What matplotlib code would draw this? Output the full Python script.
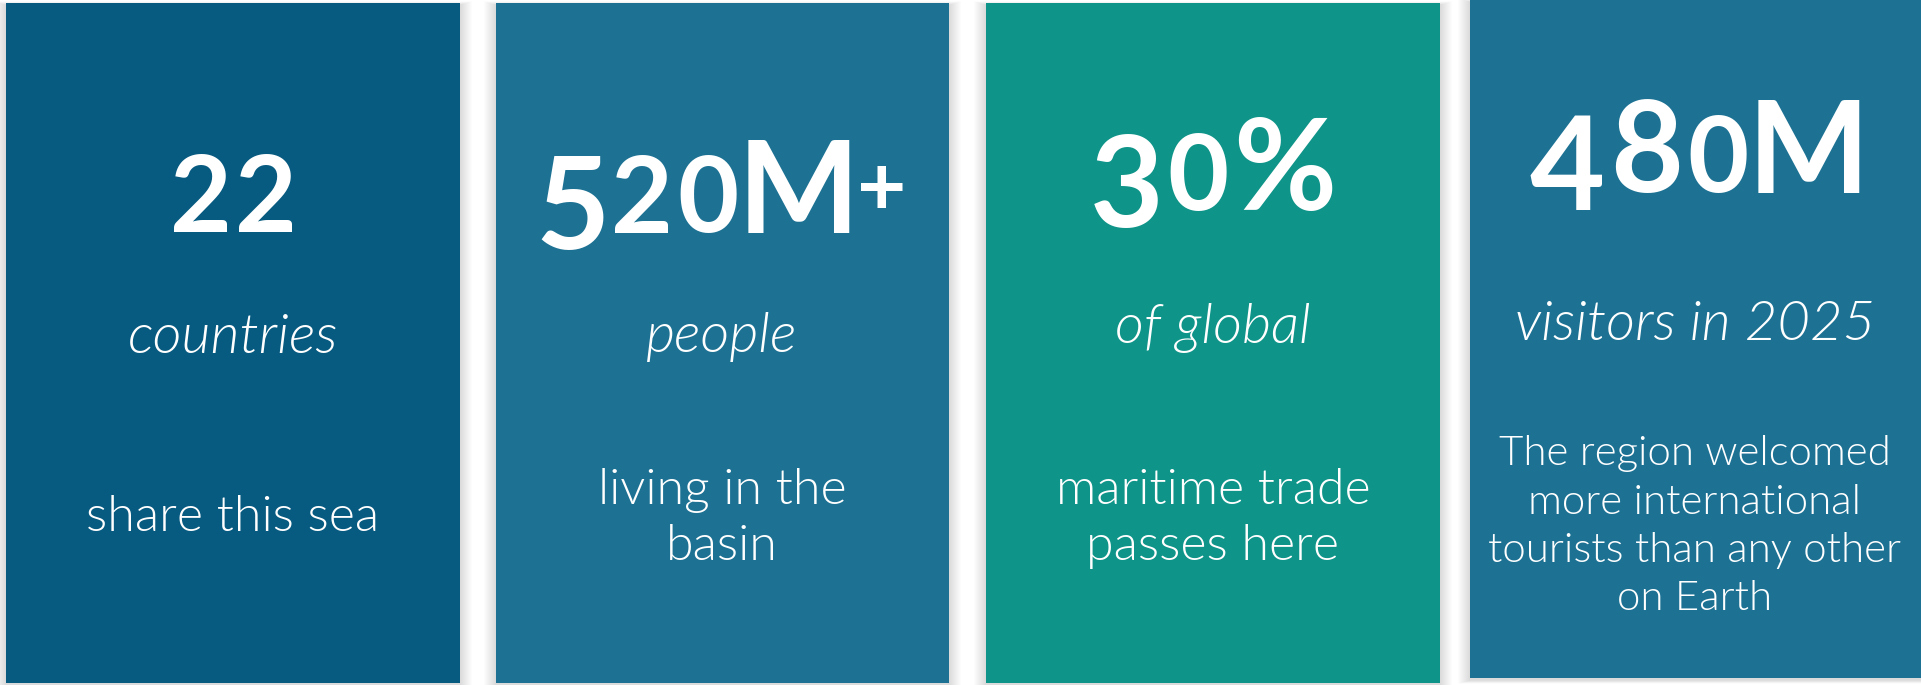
import matplotlib.pyplot as plt
from matplotlib.patches import Rectangle
from matplotlib.textpath import TextPath
from matplotlib.font_manager import FontProperties

# card contents
figures = ['22', '520M+', '30%', '480M']
units = ['countries', 'people', 'of global', 'visitors in 2025']
notes = [
    ['share this sea'],
    ['living in the', 'basin'],
    ['maritime trade', 'passes here'],
    ['The region welcomed', 'more international', 'tourists than any other', 'on Earth'],
]
card_colors = ['#075A80', '#1D7294', '#0E9488', '#1D7294']

# layout in pixels (y measured from the top)
W, H = 1921, 685
cards = [(6, 3, 454, 680), (496, 3, 453, 680), (986, 3, 454, 680), (1470, 0, 460, 678)]
text_x = [233, 722, 1213, 1695]
figure_base = [232, 233, 211, 193]
unit_base = [353, 352, 343, 340]
note_base = [531, 504, 504, 465]
note_px = [50, 50, 50, 42]
note_step = [56, 56, 56, 48.5]

FAMILY = 'Lato'
bold = FontProperties(family=FAMILY, weight='bold')
light = FontProperties(family=FAMILY, weight=300)
light_it = FontProperties(family=FAMILY, weight=300, style='italic')

CAP = 93  # cap height of the big figures
GAP = 12


def ink(ch, prop, size=1.0):
    e = TextPath((0, 0), ch, size=size, prop=prop).get_extents()
    return e.x0, e.x1, e.y0, e.y1


def glyph_spec(ch):
    # old-style figures: (ink height, ink bottom offset below baseline)
    if ch in '012':
        return 0.84 * CAP, 0
    if ch in '34579':
        return 1.01 * CAP, 0.18 * CAP
    if ch == '+':
        return 0.46 * CAP, -0.27 * CAP
    return CAP, 0


def draw_figure(ax, s, cx, base):
    parts = []
    for ch in s:
        h, drop = glyph_spec(ch)
        x0, x1, y0, y1 = ink(ch, bold)
        em = h / (y1 - y0)
        parts.append((ch, em, (x1 - x0) * em, y0 * em, drop))
    total = sum(p[2] for p in parts) + GAP * (len(parts) - 1)
    x = cx - total / 2
    for ch, em, w, y0, drop in parts:
        y = base + drop + y0
        ax.text(x + w / 2, y, ch, ha='center', va='baseline',
                fontproperties=bold, fontsize=em * 0.72, color='white')
        x += w + GAP


fig = plt.figure(figsize=(W / 100, H / 100), dpi=100)
ax = fig.add_axes([0, 0, 1, 1])
ax.set_xlim(0, W)
ax.set_ylim(H, 0)
ax.axis('off')

# x-height of the italic unit labels is ~28px
xh = ink('x', light_it)
unit_em = 28 / (xh[3] - xh[2])

for i, (x, y, w, h) in enumerate(cards):
    # soft drop shadow
    for k in range(1, 13):
        ax.add_patch(Rectangle((x - k, y - k * 0.3 + 2), w + 2 * k, h + k * 0.6,
                               color='black', alpha=0.011, lw=0, zorder=1))
    ax.add_patch(Rectangle((x, y), w, h, color=card_colors[i], lw=0, zorder=2))

    draw_figure(ax, figures[i], text_x[i], figure_base[i])
    ax.text(text_x[i], unit_base[i], units[i], ha='center', va='baseline',
            fontproperties=light_it, fontsize=unit_em * 0.72, color='white', zorder=3)
    for j, line in enumerate(notes[i]):
        ax.text(text_x[i], note_base[i] + j * note_step[i], line, ha='center',
                va='baseline', fontproperties=light, fontsize=note_px[i] * 0.72,
                color='white', zorder=3)

fig.savefig('out.png', dpi=100, facecolor='white')
